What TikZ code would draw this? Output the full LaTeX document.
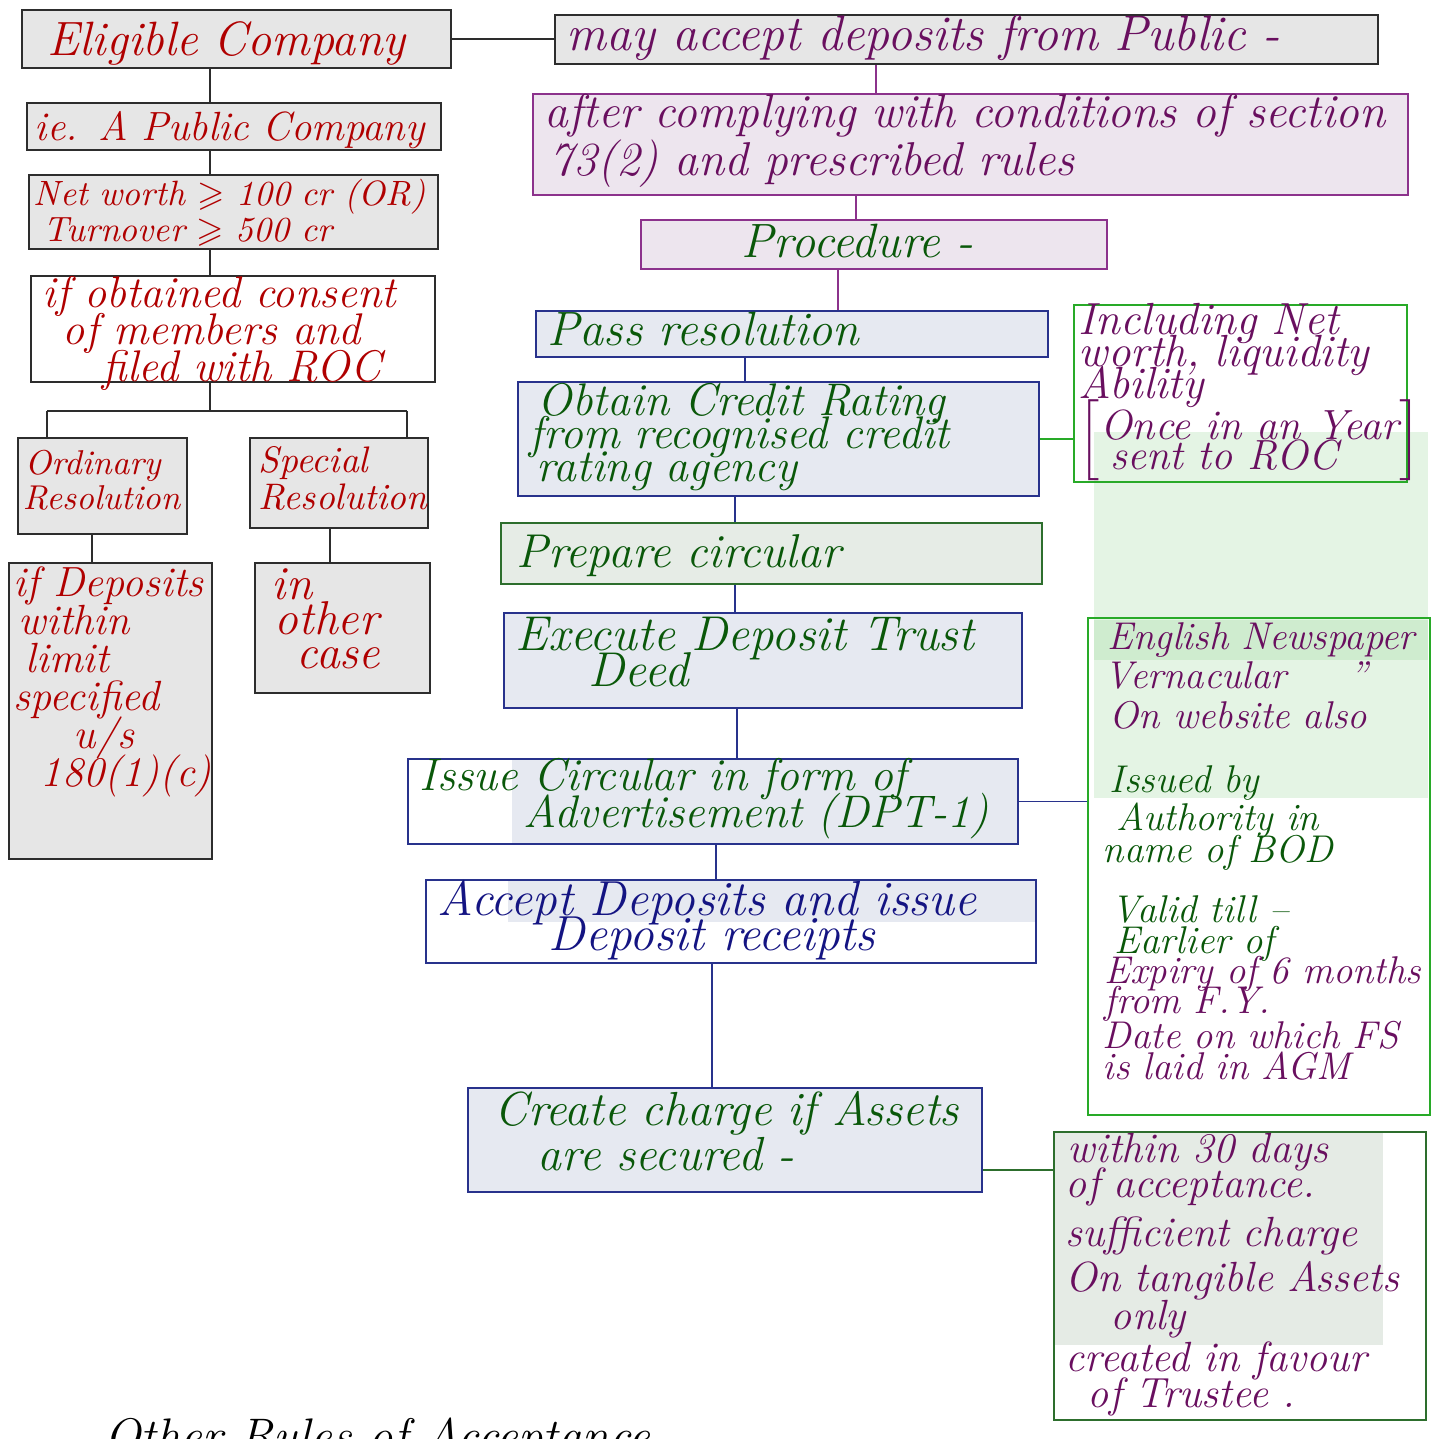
\documentclass[tikz,border=0pt]{standalone}
\usepackage{amssymb}
\definecolor{NoteRed}{RGB}{176,0,0}
\definecolor{NotePurple}{RGB}{105,15,95}
\definecolor{NoteGreen}{RGB}{10,88,10}
\definecolor{NoteNavy}{RGB}{20,20,130}
\definecolor{FillGray}{RGB}{230,230,230}
\definecolor{EdgeGray}{RGB}{45,45,45}
\definecolor{FillLilac}{RGB}{237,229,238}
\definecolor{EdgeLilac}{RGB}{140,50,140}
\definecolor{FillBlue}{RGB}{230,233,241}
\definecolor{EdgeBlue}{RGB}{40,50,140}
\definecolor{FillSage}{RGB}{230,236,230}
\definecolor{EdgeSage}{RGB}{45,110,45}
\definecolor{EdgeLime}{RGB}{40,170,40}
\definecolor{HiGreen}{RGB}{228,244,228}
\definecolor{HiGreenDark}{RGB}{207,236,207}
\definecolor{HiSage}{RGB}{229,235,229}
\usetikzlibrary{positioning, calc}
\hyphenpenalty=10000
\exhyphenpenalty=10000
\lineskiplimit=-40pt

\newcommand\hand[2]{\fontsize{#1}{#2}\selectfont\itshape\lineskiplimit=-40pt\relax}

\tikzset{
    note/.style={rectangle, line width=0.7pt, inner xsep=0.12cm, inner ysep=0pt, align=left},
    graynote/.style={note, draw=EdgeGray, fill=FillGray, text=NoteRed},
    lilacnote/.style={note, draw=EdgeLilac, fill=FillLilac, text=NotePurple},
    bluenote/.style={note, draw=EdgeBlue, fill=FillBlue, text=NoteGreen},
    wire/.style={line width=0.5pt, draw=#1},
}

\begin{document}
\begin{tikzpicture}[x=0.01cm, y=-0.01cm]
    \useasboundingbox (0,0) rectangle (1433,1439);

    % highlighter marks
    \fill[HiGreen] (1094,432) rectangle (1428,798);
    \fill[HiGreenDark] (1094,620) rectangle (1428,660);
    \fill[FillBlue] (512,759) rectangle (1018,844);
    \fill[FillBlue] (508,880) rectangle (1036,922);
    \fill[HiSage] (1054,1132) rectangle (1383,1345);

    % left column
    \node[graynote, text width=4.05cm, text height=0.45cm, text depth=0.13cm, font=\hand{13.7}{14}] (elig) at (236.5,39) {\hspace*{0.14cm}Eligible Company};
    \node[graynote, inner xsep=0.05cm, text width=4.04cm, text height=0.37cm, text depth=0.10cm, font=\hand{11.6}{12}] (pubco) at (234,126.5) {\hspace*{0.03cm}ie. A Public Company};
    \node[graynote, inner xsep=0.05cm, text width=3.99cm, text height=0.30cm, text depth=0.44cm, font=\hand{10}{10.5}] (netw) at (233.5,212) {Net worth $\geqslant$ 100 cr (OR)\\ \hspace*{0.1cm}Turnover $\geqslant$ 500 cr};
    \node[note, draw=EdgeGray, fill=white, text=NoteRed, text width=3.80cm, text height=0.32cm, text depth=0.74cm, font=\hand{12.6}{10.4}] (consent) at (233,329) {if obtained consent\\ \hspace*{0.2cm}of members and\\ \hspace*{0.6cm}filed with ROC};
    \node[graynote, inner xsep=0.05cm, text width=1.59cm, text height=0.36cm, text depth=0.60cm, font=\hand{9.8}{10.2}] (ordres) at (102.5,486) {\hspace*{0.02cm}Ordinary\\Resolution};
    \node[graynote, inner xsep=0.05cm, text width=1.68cm, text height=0.34cm, text depth=0.56cm, font=\hand{10.5}{10.8}] (specres) at (339,483) {\hspace*{0.04cm}Special\\ \hspace*{0.04cm}Resolution};
    \node[graynote, inner xsep=0.05cm, text width=1.93cm, text height=0.34cm, text depth=2.62cm, font=\hand{12}{10.8}] (ifdep) at (110.5,711) {if Deposits\\ \hspace*{0.05cm}within\\ \hspace*{0.12cm}limit\\ specified\\ \hspace*{0.6cm}u/s\\ \hspace*{0.27cm}180(1)(c)};
    \node[graynote, text width=1.51cm, text height=0.37cm, text depth=0.93cm, font=\hand{13.5}{9.7}] (other) at (342.5,628) {\hspace*{0.05cm}in\\ \hspace*{0.08cm}other\\ \hspace*{0.3cm}case};

    % main procedure
    \node[graynote, text=NotePurple, text width=7.99cm, text height=0.35cm, text depth=0.14cm, font=\hand{14.2}{14}] (may) at (966.5,39.5) {may accept deposits from Public -};
    \node[lilacnote, text width=8.51cm, text height=0.34cm, text depth=0.67cm, font=\hand{13.5}{13.4}] (after) at (970.5,144.5) {after complying with conditions of section\\ \hspace*{0.05cm}73(2) and prescribed rules};
    \node[lilacnote, text=NoteGreen, text width=4.42cm, text height=0.37cm, text depth=0.12cm, font=\hand{13.7}{14}] (proc) at (874,244.5) {\hspace*{0.89cm}Procedure -};
    \node[bluenote, text width=4.88cm, text height=0.34cm, text depth=0.12cm, font=\hand{13.7}{14}] (pass) at (792,334) {Pass resolution};
    \node[bluenote, text width=4.97cm, text height=0.34cm, text depth=0.80cm, font=\hand{13}{9.3}] (obtain) at (778.5,439) {\hspace*{0.08cm}Obtain Credit Rating\\ from recognised credit\\ \hspace*{0.07cm}rating agency};
    \node[note, draw=EdgeSage, fill=FillSage, text=NoteGreen, text width=5.17cm, text height=0.44cm, text depth=0.17cm, font=\hand{13.5}{14}] (prep) at (771.5,553.5) {\hspace*{0.04cm}Prepare circular};
    \node[bluenote, text width=4.94cm, text height=0.37cm, text depth=0.58cm, font=\hand{13.9}{10.5}] (exec) at (763,660.5) {Execute Deposit Trust\\ \hspace*{0.73cm}Deed};
    \node[note, draw=EdgeBlue, text=NoteGreen, text width=5.86cm, text height=0.31cm, text depth=0.54cm, font=\hand{13}{10.8}] (issue) at (713,801.5) {Issue Circular in form of\\ \hspace*{1.04cm}Advertisement (DPT-1)};
    \node[note, draw=EdgeBlue, text=NoteNavy, text width=5.86cm, text height=0.35cm, text depth=0.48cm, font=\hand{14}{10}] (accept) at (731,921.5) {Accept Deposits and issue\\ \hspace*{1.11cm}Deposit receipts};
    \node[bluenote, text width=4.90cm, text height=0.37cm, text depth=0.67cm, font=\hand{13.6}{12.8}] (create) at (725,1140) {\hspace*{0.15cm}Create charge if Assets\\ \hspace*{0.58cm}are secured -};

    % side notes
    \node[note, draw=EdgeLime, text=NotePurple, inner xsep=0.05cm, text width=3.23cm, text height=0.30cm, text depth=1.47cm, font=\hand{12.8}{9.1}] (incl) at (1240.5,393.5) {Including Net\\ worth, liquidity\\ Ability\\[0.2cm] $\left[\vcenter{\hand{12}{8.6}\hbox{Once in an Year}\hbox{\hspace*{0.1cm}sent to ROC}}\right]$};
    \node[note, draw=EdgeLime, inner xsep=0cm, text width=3.42cm, text height=0.32cm, text depth=4.65cm, font=\hand{11}{10}] (engl) at (1259,866.5) {\color{NotePurple}\hspace*{0.2cm}English Newspaper\\[0.03cm] \hspace*{0.17cm}Vernacular \hspace*{0.5cm}''\\[0.05cm] \hspace*{0.22cm}On website also\\[0.29cm] \color{NoteGreen}\hspace*{0.22cm}Issued by\\[0.03cm] \hspace*{0.29cm}Authority in\\[-0.03cm] \hspace*{0.15cm}name of BOD\\[0.25cm] \hspace*{0.24cm}Valid till --\\[-0.05cm] \hspace*{0.27cm}Earlier of\\[-0.05cm] \color{NotePurple}\hspace*{0.17cm}Expiry of 6 months\\[-0.05cm] \hspace*{0.17cm}from F.Y.\\ \hspace*{0.15cm}Date on which FS\\[-0.04cm] \hspace*{0.15cm}is laid in AGM};
    \node[note, draw=EdgeSage, text=NotePurple, text width=3.48cm, text height=0.31cm, text depth=2.57cm, font=\hand{12}{11}] (within) at (1240,1276) {\hspace*{0.02cm}within 30 days\\[-0.04cm] of acceptance.\\[0.1cm] sufficient charge\\[0.06cm] On tangible Assets\\ \hspace*{0.45cm}only\\[0.03cm] created in favour\\[-0.03cm] \hspace*{0.22cm}of Trustee .};

    \node[anchor=base west, font=\hand{13.8}{14}] (accrules) at (92,1452) {Other Rules of Acceptance};

    % connectors
    \coordinate (lstem) at (210,0);
    \coordinate (fork) at (210,411);
    \draw[wire=EdgeGray] (elig.east) -- (elig.east -| may.west);
    \draw[wire=EdgeGray] (elig.south -| lstem) -- (pubco.north -| lstem);
    \draw[wire=EdgeGray] (pubco.south -| lstem) -- (netw.north -| lstem);
    \draw[wire=EdgeGray] (netw.south -| lstem) -- (consent.north -| lstem);
    \draw[wire=EdgeGray] (consent.south -| lstem) -- (fork);
    \draw[wire=EdgeGray] (fork -| 47,0) -- (fork -| 407,0);
    \draw[wire=EdgeGray] (fork -| 47,0) -- (ordres.north -| 47,0);
    \draw[wire=EdgeGray] (fork -| 407,0) -- (specres.north -| 407,0);
    \draw[wire=EdgeGray] (ordres.south -| 92,0) -- (ifdep.north -| 92,0);
    \draw[wire=EdgeGray] (specres.south -| 330,0) -- (other.north -| 330,0);

    \draw[wire=EdgeLilac] (may.south -| 876,0) -- (after.north -| 876,0);
    \draw[wire=EdgeLilac] (after.south -| 856,0) -- (proc.north -| 856,0);
    \draw[wire=EdgeLilac] (proc.south -| 838,0) -- (pass.north -| 838,0);
    \draw[wire=EdgeBlue] (pass.south -| 745,0) -- (obtain.north -| 745,0);
    \draw[wire=EdgeBlue] (obtain.south -| 735,0) -- (prep.north -| 735,0);
    \draw[wire=EdgeBlue] (prep.south -| 735,0) -- (exec.north -| 735,0);
    \draw[wire=EdgeBlue] (exec.south -| 737,0) -- (issue.north -| 737,0);
    \draw[wire=EdgeBlue] (issue.south -| 716,0) -- (accept.north -| 716,0);
    \draw[wire=EdgeBlue] (accept.south -| 712,0) -- (create.north -| 712,0);

    \draw[wire=EdgeLime] (obtain.east) -- (obtain.east -| incl.west);
    \draw[wire=EdgeBlue] (issue.east) -- (issue.east -| engl.west);
    \draw[wire=EdgeSage] (create.east |- 0,1170) -- (within.west |- 0,1170);
\end{tikzpicture}
\end{document}
